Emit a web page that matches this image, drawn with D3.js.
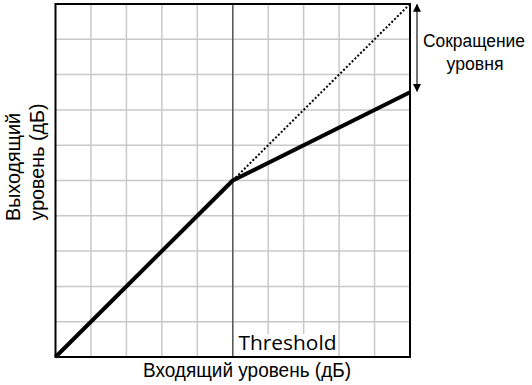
<!DOCTYPE html>
<html><head><meta charset="utf-8">
<script src="https://cdn.jsdelivr.net/npm/d3@7"></script>
<style>body{margin:0;background:#fff}</style>
</head><body>
<svg id="c" width="532" height="385"></svg>
<script>
const inputLevels = [0, 5, 10];
const outputCompressed = [0, 5, 7.5];
const outputUncompressed = [5, 10];
const thresholdInput = 5;
const gridTicks = d3.range(0, 11);
const xLabel = "Входящий уровень (дБ)";
const yLabel = ["Выходящий", "уровень (дБ)"];
const reductionLabel = ["Сокращение", "уровня"];
const thresholdLabel = "Threshold";

const svg = d3.select("#c");
const L = 55.5, R = 410, T = 4, B = 357;
const x = d3.scaleLinear().domain([0, 10]).range([L, R]);
const y = d3.scaleLinear().domain([0, 10]).range([B, T]);

const g = svg.append("g");
g.selectAll(".vg").data(gridTicks.slice(1, -1)).join("line")
  .attr("x1", d => x(d)).attr("x2", d => x(d)).attr("y1", T).attr("y2", B)
  .attr("stroke", "#c8c8c8").attr("stroke-width", 1.5);
g.selectAll(".hg").data(gridTicks.slice(1, -1)).join("line")
  .attr("y1", d => y(d)).attr("y2", d => y(d)).attr("x1", L).attr("x2", R)
  .attr("stroke", "#c8c8c8").attr("stroke-width", 1.5);

// white background behind threshold label
svg.append("rect").attr("x", 237).attr("y", 334).attr("width", 101).attr("height", B - 334)
  .attr("fill", "#fff");

// threshold line
svg.append("line").attr("x1", x(thresholdInput)).attr("x2", x(thresholdInput)).attr("y1", T).attr("y2", B)
  .attr("stroke", "#5a5a5a").attr("stroke-width", 1.5);

svg.append("text").attr("x", 238.5).attr("y", 350)
  .attr("font-family", "'Open Sans', sans-serif").attr("font-size", 20)
  .attr("textLength", 98).attr("lengthAdjust", "spacingAndGlyphs")
  .attr("fill", "#000").text(thresholdLabel);

// dotted reference
svg.append("path").datum(outputUncompressed)
  .attr("d", d3.line().x(d => x(d)).y(d => y(d)))
  .attr("fill", "none").attr("stroke", "#000").attr("stroke-width", 2).attr("stroke-dasharray", "2,2");

// compressed line
svg.append("path").datum(inputLevels.map((v, i) => [v, outputCompressed[i]]))
  .attr("d", d3.line().x(d => x(d[0])).y(d => y(d[1])))
  .attr("fill", "none").attr("stroke", "#000").attr("stroke-width", 4);

// frame
svg.append("rect").attr("x", L).attr("y", T).attr("width", R - L).attr("height", B - T)
  .attr("fill", "none").attr("stroke", "#000").attr("stroke-width", 2);

// arrow
const defs = svg.append("defs");
defs.append("marker").attr("id", "ah").attr("viewBox", "0 0 10 10").attr("refX", 9).attr("refY", 5)
  .attr("markerWidth", 8).attr("markerHeight", 8).attr("markerUnits", "userSpaceOnUse").attr("orient", "auto-start-reverse")
  .append("path").attr("d", "M0,0 L10,5 L0,10 Z").attr("fill", "#000");
svg.append("line").attr("x1", 417).attr("x2", 417).attr("y1", y(10) + 0.5).attr("y2", y(outputCompressed[2]) - 1)
  .attr("stroke", "#444").attr("stroke-width", 1.5)
  .attr("marker-start", "url(#ah)").attr("marker-end", "url(#ah)");

const af = "'Liberation Sans', Arial, sans-serif";
function txt(tx, ty, s, len, rot, fs) {
  return svg.append("text")
    .attr("transform", `translate(${tx},${ty})` + (rot ? " rotate(-90)" : ""))
    .attr("text-anchor", "middle").attr("font-family", af).attr("font-size", fs || 20)
    .attr("textLength", len).attr("lengthAdjust", "spacingAndGlyphs").attr("fill", "#000").text(s);
}
txt(474, 47, reductionLabel[0], 102, false, 18);
txt(475, 70, reductionLabel[1], 57, false, 19);
txt(247, 377, xLabel, 208);
txt(19.5, 167, yLabel[0], 108, true);
txt(44, 162, yLabel[1], 117, true);
</script>
</body></html>
